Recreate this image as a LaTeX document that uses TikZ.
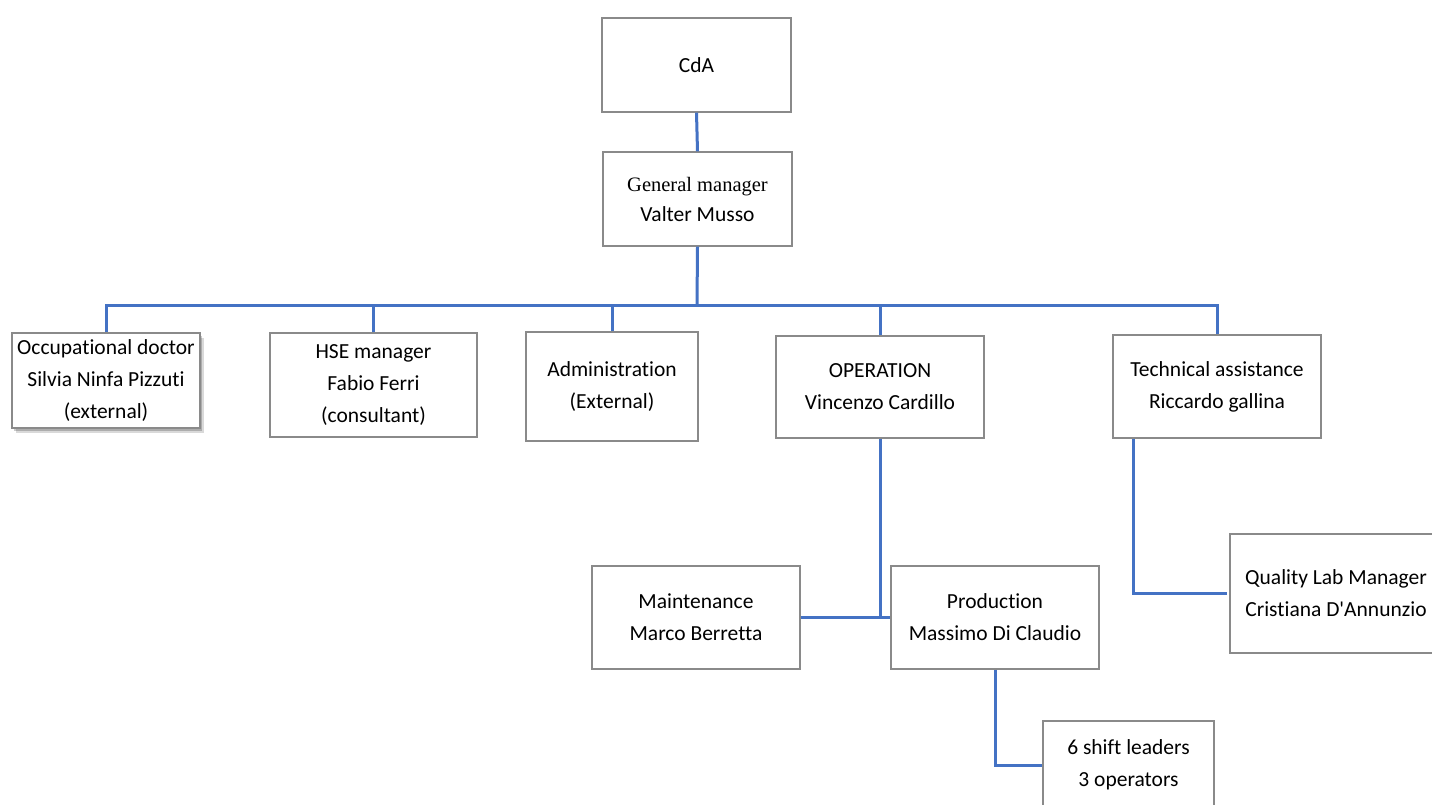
\documentclass[tikz,border=0pt]{standalone}
\usepackage{fontspec}
\setmainfont{Carlito}[Ligatures={TeXOff,NoCommon}]
\newfontfamily\serifgm{Liberation Serif}
\usetikzlibrary{shadows}
\definecolor{boxline}{HTML}{8A8A8A}
\definecolor{connblue}{HTML}{4472C4}
\tikzset{
  box/.style={draw=boxline, line width=1.3pt, fill=white, inner sep=0pt, align=center,
    font=\fontsize{21.5}{32}\selectfont},
  conn/.style={draw=connblue, line width=3pt},
}
\begin{document}
\begin{tikzpicture}[x=1pt,y=-1pt]
\useasboundingbox[fill=white] (0,0) rectangle (1432,804);
\node[box, minimum width=189, minimum height=94] (cda) at (696.5,65) {CdA};
\node[box, minimum width=189, minimum height=94, font=\fontsize{20.5}{30}\selectfont] (gm) at (697.5,199) {{\serifgm General manager}\\{\fontsize{21.5}{30}\selectfont Valter Musso}};
\coordinate (bus) at (697,305);
\node[box, minimum width=188, minimum height=95,
  drop shadow={shadow xshift=4pt, shadow yshift=-5pt, opacity=0.15, fill=black},
  drop shadow={shadow xshift=2pt, shadow yshift=-3pt, opacity=0.2, fill=black}] (occ) at (106,380.5) {Occupational doctor\\Silvia Ninfa Pizzuti\\(external)};
\node[box, minimum width=207, minimum height=104] (hse) at (373.5,385) {HSE manager\\Fabio Ferri\\(consultant)};
\node[box, minimum width=172, minimum height=109] (adm) at (612,386.5) {Administration\\(External)};
\node[box, minimum width=208, minimum height=102] (ops) at (880,387) {OPERATION\\Vincenzo Cardillo};
\node[box, minimum width=208, minimum height=103] (tech) at (1217,386.5) {Technical assistance\\Riccardo gallina};
\node[box, minimum width=208, minimum height=103] (maint) at (696,617.5) {Maintenance\\Marco Berretta};
\node[box, minimum width=208, minimum height=103] (prod) at (995,617.5) {Production\\Massimo Di Claudio};
\node[box, minimum width=171, minimum height=88] (shift) at (1128.5,765) {6 shift leaders\\3 operators};
\node[box, minimum width=212, minimum height=119] (qual) at (1336,593.5) {Quality Lab Manager\\Cristiana D'Annunzio};
% connectors
\draw[conn] (cda.south) -- (gm.north);
\draw[conn] (gm.south) -- (bus);
\draw[conn] (occ.north) |- (bus);
\draw[conn] (hse.north) |- (bus);
\draw[conn] (adm.north) |- (bus);
\draw[conn] (ops.north) |- (bus);
\draw[conn] (tech.north) |- (bus);
\draw[conn] (ops.south) -- (ops.south |- maint.east);
\draw[conn] (maint.east) -- (prod.west);
\draw[conn] (prod.south) |- (shift.west);
\draw[conn] ([xshift=21pt]tech.south west) |- ([xshift=-2pt]qual.west);
\end{tikzpicture}
\end{document}
